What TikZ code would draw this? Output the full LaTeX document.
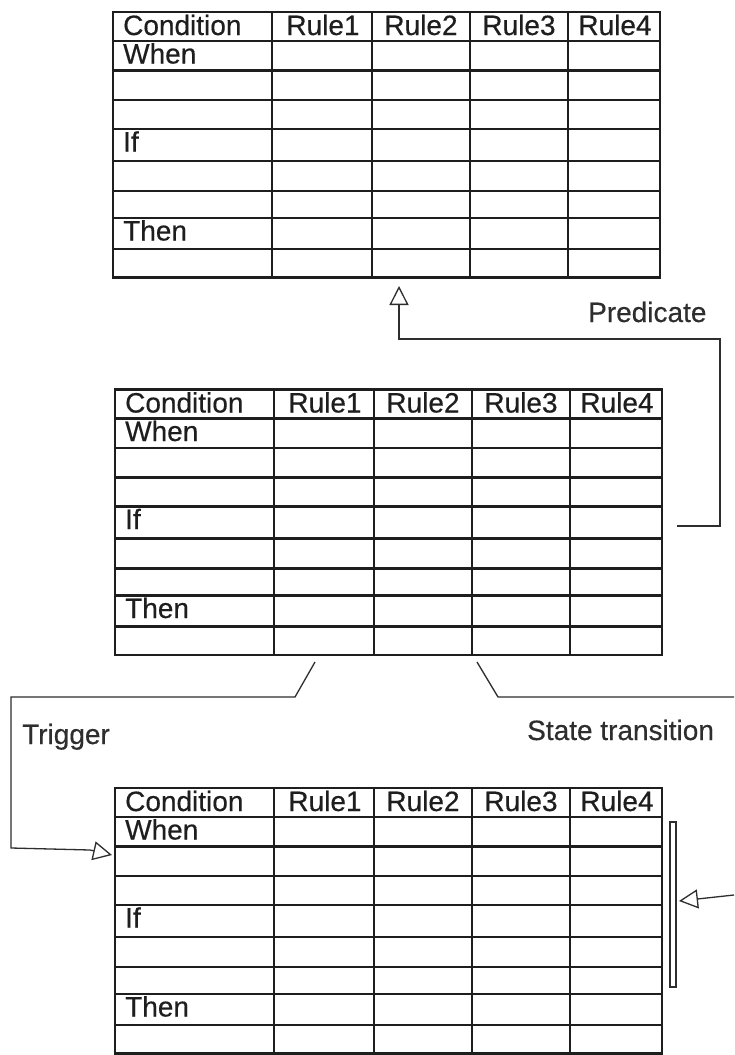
\documentclass[tikz,border=0pt]{standalone}
\usepackage{fontspec}
\setmainfont{Liberation Sans}
\newfontfamily\scanfont{Liberation Sans}[FakeBold=0.35]
\usetikzlibrary{arrows.meta}
\definecolor{ink}{HTML}{1E1E1E}
\definecolor{wire}{HTML}{2E2E2E}
\tikzset{
  grid/.style={draw=ink, line width=2.6pt, line cap=rect},
  lbl/.style={anchor=base west, inner sep=0pt, text=ink, font=\scanfont\fontsize{28}{30}\selectfont},
  hdr/.style={anchor=base, inner sep=0pt, text=ink, font=\scanfont\fontsize{28}{30}\selectfont},
  wirestyle/.style={draw=wire, line width=1.3pt, line join=miter},
  arrowed/.style={wirestyle, -{Triangle[open, length=19pt, width=19pt, line width=1.3pt]}},
  barbox/.style={draw=wire, line width=1.2pt, fill=white}
}
\newcommand{\ruletable}[3]{%
  \begin{scope}[shift={(#2,#3)}]
    \coordinate (#1-nw) at (0,0);
    \coordinate (#1-se) at (547,265.5);
    \foreach \r in {29,58.5,88,117,149,179,206,237} \draw[grid] (0,\r) -- (547,\r);
    \foreach \c in {159,259,357,455} \draw[grid] (\c,0) -- (\c,265.5);
    \draw[grid] (#1-nw) rectangle (#1-se);
    \node[lbl] (#1-cond) at (10,23) {Condition};
    \node[hdr] (#1-r1) at (210,23) {Rule1};
    \node[hdr] (#1-r2) at (308,23) {Rule2};
    \node[hdr] (#1-r3) at (406,23) {Rule3};
    \node[hdr] (#1-r4) at (502,23) {Rule4};
    \node[lbl] (#1-when) at (10,51.5) {When};
    \node[lbl] (#1-if) at (10,139.5) {If};
    \node[lbl] (#1-then) at (10,228.5) {Then};
  \end{scope}}
\begin{document}
\begin{tikzpicture}[x=1pt, y=-1pt]
  \useasboundingbox[fill=white] (0,0) rectangle (734,1055);
  % tables
  \ruletable{ta}{113}{12}
  \ruletable{tb}{115}{389.5}
  \ruletable{tc}{115}{788}
  % predicate connector
  \coordinate (p0) at (677,526);
  \coordinate (p1) at (720,526);
  \coordinate (p2) at (720,339);
  \coordinate (p3) at (399,339);
  \coordinate (ptip) at (399,286);
  \draw[arrowed] (p0) -- (p1) -- (p2) -- (p3) -- (ptip);
  \node[lbl, text=wire] (predicate) at (588,322) {Predicate};
  % trigger connector
  \coordinate (g0) at (315,662);
  \coordinate (g1) at (295,697);
  \coordinate (g2) at (11,697);
  \coordinate (g3) at (11,848);
  \coordinate (g4) at (90,850);
  \coordinate (gtip) at (112,855);
  \draw[arrowed] (g0) -- (g1) -- (g2) -- (g3) -- (g4) -- (gtip);
  \node[lbl, text=wire] (trigger) at (22,744) {Trigger};
  % state transition connector
  \coordinate (s0) at (477,662);
  \coordinate (s1) at (498,697);
  \coordinate (s2) at (734,697);
  \draw[wirestyle] (s0) -- (s1) -- (s2);
  \node[lbl, text=wire] (state) at (527,740) {State transition};
  % bar and incoming arrow
  \draw[barbox] (670,822) rectangle (676,987);
  \coordinate (b0) at (734,895);
  \coordinate (btip) at (679,901);
  \draw[arrowed] (b0) -- (btip);
\end{tikzpicture}
\end{document}
